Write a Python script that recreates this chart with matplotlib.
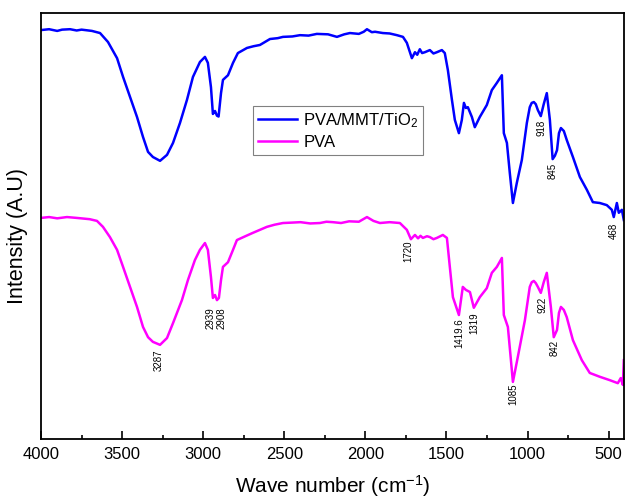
import matplotlib
matplotlib.use("Agg")
import matplotlib.pyplot as plt
from matplotlib.ticker import MultipleLocator

plt.rcParams['font.family'] = ['Liberation Sans', 'DejaVu Sans']
plt.rcParams['mathtext.fontset'] = 'custom'
plt.rcParams['mathtext.rm'] = 'Liberation Sans'
plt.rcParams['mathtext.it'] = 'Liberation Sans:italic'

# PVA/MMT/TiO2 spectrum (wave number, intensity a.u.)
wn_comp = [4000, 3950, 3900, 3870, 3821, 3780, 3750, 3686, 3636, 3587, 3531, 3494,
           3451, 3408, 3371, 3340, 3310, 3266, 3223, 3186, 3143, 3100, 3063, 3020,
           2989, 2971, 2952, 2940, 2927, 2915, 2905, 2890, 2878, 2847, 2816, 2786,
           2730, 2690, 2650, 2588, 2540, 2508, 2450, 2403, 2350, 2299, 2230, 2175,
           2130, 2095, 2040, 2010, 1990, 1960, 1940, 1892, 1850, 1805, 1768, 1744,
           1713, 1694, 1680, 1664, 1650, 1633, 1602, 1580, 1559, 1528, 1510, 1491,
           1466, 1448, 1423, 1405, 1392, 1380, 1368, 1343, 1325, 1294, 1251, 1220,
           1189, 1158, 1146, 1127, 1109, 1090, 1066, 1035, 1004, 986, 974, 961,
           949, 936, 918, 900, 881, 862, 845, 831, 818, 806, 794, 776, 758, 720, 677,
           634, 597, 554, 511, 480, 468, 449, 437, 418, 406]
int_comp = [96.0, 96.2, 95.8, 96.1, 96.2, 95.9, 96.1, 95.8, 95.3, 93.2, 89.4, 85.0,
            80.3, 75.6, 70.9, 67.4, 66.2, 65.3, 66.7, 69.5, 74.2, 79.6, 85.0, 88.5,
            89.7, 88.3, 82.6, 76.3, 77.0, 75.9, 75.7, 81.2, 84.3, 85.4, 88.3, 90.6,
            91.8, 92.2, 92.5, 93.9, 94.1, 94.4, 94.5, 94.8, 94.7, 95.1, 95.0, 94.4,
            95.0, 95.3, 95.1, 95.6, 96.2, 95.5, 95.6, 95.3, 95.2, 94.8, 94.4, 93.0,
            89.4, 90.8, 90.2, 91.5, 90.6, 90.8, 91.3, 90.5, 90.8, 91.3, 90.6, 86.6,
            79.6, 74.9, 71.8, 74.9, 78.9, 77.7, 77.9, 75.6, 73.2, 75.6, 78.4, 81.9,
            83.6, 85.4, 71.8, 69.5, 62.4, 55.4, 60.1, 65.5, 74.2, 77.9, 78.9, 79.1,
            78.6, 77.2, 75.8, 78.6, 81.2, 74.9, 65.7, 66.5, 67.8, 71.8, 73.0, 72.3,
            70.2, 66.2, 61.5, 58.5, 55.6, 55.4, 54.9, 53.8, 52.1, 55.4, 53.1, 53.8,
            51.4]

# PVA spectrum
wn_pva = [4000, 3950, 3900, 3840, 3780, 3700, 3655, 3618, 3575, 3531, 3494, 3451,
          3408, 3371, 3340, 3310, 3266, 3223, 3186, 3131, 3094, 3051, 3020, 2989,
          2971, 2952, 2940, 2927, 2915, 2903, 2890, 2878, 2847, 2816, 2792, 2740,
          2693, 2650, 2607, 2560, 2508, 2450, 2400, 2340, 2280, 2240, 2200, 2150,
          2100, 2040, 1990, 1950, 1910, 1850, 1787, 1744, 1719, 1694, 1675, 1660,
          1645, 1620, 1602, 1580, 1559, 1522, 1497, 1479, 1460, 1423, 1399, 1380,
          1355, 1331, 1294, 1251, 1220, 1189, 1158, 1146, 1121, 1090, 1060, 1016,
          986, 974, 961, 949, 936, 918, 900, 881, 856, 838, 818, 806, 794, 776,
          758, 720, 665, 616, 554, 492, 443, 425, 412, 406]
int_pva = [51.9, 52.1, 51.8, 52.1, 51.9, 51.6, 51.2, 49.8, 47.4, 44.4, 40.4, 35.7,
           31.0, 26.3, 23.9, 22.8, 22.1, 23.7, 27.2, 32.6, 37.3, 42.0, 44.4, 46.0,
           44.4, 38.0, 33.1, 33.8, 32.6, 33.1, 37.3, 40.4, 41.5, 44.4, 46.7, 47.6,
           48.4, 49.1, 49.8, 50.3, 50.7, 50.8, 50.9, 50.6, 50.7, 51.0, 50.9, 50.7,
           51.1, 51.0, 52.1, 51.2, 50.7, 50.9, 50.7, 49.1, 46.9, 47.9, 47.1, 47.7,
           47.2, 47.6, 47.4, 46.9, 47.2, 47.9, 47.2, 40.4, 33.3, 29.1, 35.7, 35.0,
           34.5, 30.8, 33.3, 35.4, 39.0, 40.4, 42.5, 29.1, 26.3, 13.4, 19.2, 27.9,
           35.7, 36.8, 37.1, 36.6, 35.7, 34.3, 36.8, 39.0, 31.0, 23.9, 25.6, 29.6,
           31.0, 30.3, 28.6, 23.2, 18.5, 15.5, 14.6, 13.8, 13.1, 14.3, 12.7, 18.5]

# peak labels: text, x, top of text
peak_text = ['3287', '2939', '2908', '1720', '1419.6', '1319', '1085', '922', '842',
             '918', '845', '468']
peak_x = [3273, 2952, 2884, 1738, 1423, 1331, 1090, 906, 832, 912, 844, 468]
peak_y = [21.1, 31.0, 31.0, 46.7, 28.4, 29.8, 13.1, 33.3, 23.2, 74.9, 64.8, 50.7]

fig = plt.figure(figsize=(6.27, 5.01), dpi=100)
ax = fig.add_axes([0.0654, 0.1238, 0.9298, 0.8502])

ax.plot(wn_comp, int_comp, color='#0000ff', lw=1.8, label='PVA/MMT/TiO$_2$')
ax.plot(wn_pva, int_pva, color='#ff00ff', lw=1.8, label='PVA')

for t, x, y in zip(peak_text, peak_x, peak_y):
    ax.text(x, y, t, rotation=90, ha='center', va='top', fontsize=7)

ax.set_xlim(4000, 405)
ax.set_ylim(0, 100)
ax.xaxis.set_major_locator(MultipleLocator(500))
ax.xaxis.set_minor_locator(MultipleLocator(250))
ax.tick_params(axis='x', which='major', direction='in', length=6, width=1.2,
               labelsize=12, pad=6)
ax.tick_params(axis='x', which='minor', direction='in', length=3, width=1.2)
ax.set_yticks([])
for s in ax.spines.values():
    s.set_linewidth(1.3)

ax.set_xlabel('Wave number (cm$^{-1}$)', fontsize=15, labelpad=8)
ax.set_ylabel('Intensity (A.U)', fontsize=15.5)
ax.yaxis.set_label_coords(-0.022, 0.476)

leg = ax.legend(loc='upper left', bbox_to_anchor=(0.364, 0.782), borderaxespad=0,
                fontsize=12, fancybox=False, edgecolor='#808080', framealpha=1,
                handlelength=2.3, handletextpad=0.4, borderpad=0.3, labelspacing=0.3)
leg.get_frame().set_linewidth(0.8)

fig.savefig('out.png', dpi=100)
